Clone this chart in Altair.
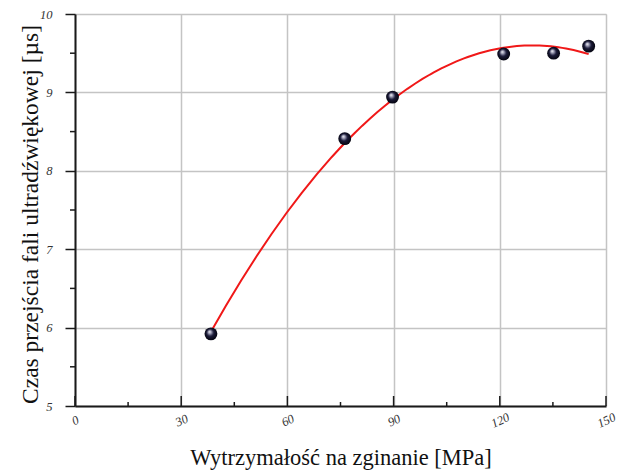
import altair as alt
import pandas as pd

# Data
strength = [38.4, 76.2, 89.7, 121.1, 135.2, 145.1]
time_us = [5.92, 8.41, 8.94, 9.49, 9.50, 9.59]

x_major = [0, 30, 60, 90, 120, 150]
x_minor = [15, 45, 75, 105, 135]
y_major = [5, 6, 7, 8, 9, 10]
y_minor = [5.5, 6.5, 7.5, 8.5, 9.5]

df = pd.DataFrame({"x": strength, "y": time_us})
df_xmaj = pd.DataFrame({"t": x_major})
df_xmin = pd.DataFrame({"t": x_minor})
df_ymin = pd.DataFrame({"t": y_minor})

FONT = "Liberation Serif"
W, H = 531, 392

xscale = alt.Scale(domain=[0, 150], nice=False, zero=False)
yscale = alt.Scale(domain=[5, 10], nice=False, zero=False)

xaxis = alt.Axis(
    values=x_major, format="d", ticks=False, grid=True,
    gridColor="#c4c4c4", gridWidth=1.5,
    domainColor="#1a1a1a", domainWidth=2,
    labelFont=FONT, labelFontStyle="italic", labelFontSize=12.5, labelColor="#333",
    labelAngle=335, labelPadding=14, labelAlign="center", labelBaseline="middle",
    title="Wytrzymałość na zginanie [MPa]", titleFont=FONT, titleFontSize=22.5,
    titleFontWeight="normal", titleColor="#111", titlePadding=17,
)
yaxis = alt.Axis(
    values=y_major, format="d", ticks=True, tickSize=10, tickColor="#1a1a1a", tickWidth=1.5,
    grid=True, gridColor="#c4c4c4", gridWidth=1.5,
    domainColor="#1a1a1a", domainWidth=2,
    labelFont=FONT, labelFontStyle="italic", labelFontSize=12.5, labelColor="#333",
    labelPadding=13,
    title="Czas przejścia fali ultradźwiękowej [µs]", titleFont=FONT, titleFontSize=23.5,
    titleFontWeight="normal", titleColor="#111",
    titleX=-45, titleY=H / 2 + 4, titleAngle=270, titleAlign="center", titleBaseline="middle",
)

base = alt.Chart(df)

fit = base.transform_regression(
    "x", "y", method="poly", order=2, extent=[38.4, 145.1]
).mark_line(color="#f01818", strokeWidth=2).encode(
    x=alt.X("x:Q", scale=xscale, axis=xaxis),
    y=alt.Y("y:Q", scale=yscale, axis=yaxis),
)

sphere = alt.RadialGradient(
    gradient="radial",
    x1=0.38, y1=0.32, r1=0.0,
    x2=0.5, y2=0.5, r2=0.55,
    stops=[
        alt.GradientStop(offset=0.0, color="#ffffff"),
        alt.GradientStop(offset=0.22, color="#a0a0b8"),
        alt.GradientStop(offset=0.5, color="#1a1a38"),
        alt.GradientStop(offset=1.0, color="#000008"),
    ],
)

pts = base.mark_circle(size=165, opacity=1, fill=sphere).encode(
    x=alt.X("x:Q", scale=xscale),
    y=alt.Y("y:Q", scale=yscale),
)

xmaj_ticks = alt.Chart(df_xmaj).mark_rule(color="#1a1a1a", strokeWidth=1.5).encode(
    x=alt.X("t:Q", scale=xscale),
    y=alt.value(H), y2=alt.value(H - 10),
)
xmin_ticks = alt.Chart(df_xmin).mark_rule(color="#1a1a1a", strokeWidth=1.5).encode(
    x=alt.X("t:Q", scale=xscale),
    y=alt.value(H), y2=alt.value(H - 4),
)
ymin_ticks = alt.Chart(df_ymin).mark_rule(color="#1a1a1a", strokeWidth=1.5).encode(
    y=alt.Y("t:Q", scale=yscale),
    x=alt.value(0), x2=alt.value(-5),
)

chart = alt.layer(fit, xmaj_ticks, xmin_ticks, ymin_ticks, pts).properties(
    width=W, height=H,
    autosize=alt.AutoSizeParams(type="none"),
    padding={"left": 75, "top": 14, "right": 12, "bottom": 66},
).configure_view(stroke=None).configure(background="white")

chart.save("out.html", embed_options={"renderer": "svg", "actions": False})
